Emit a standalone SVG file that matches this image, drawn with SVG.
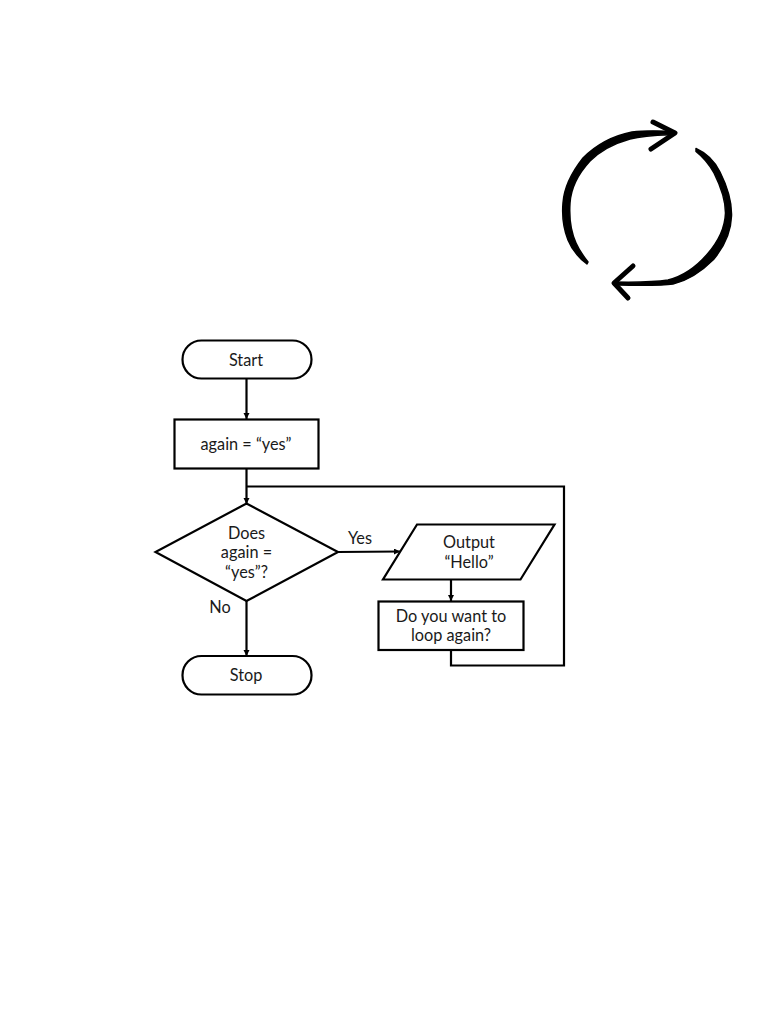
<svg xmlns="http://www.w3.org/2000/svg" width="768" height="1024" viewBox="0 0 768 1024">
<style>
.s{fill:#fff;stroke:#000;stroke-width:2.200}
.c{fill:none;stroke:#000;stroke-width:2.200}
.t{font-family:"Lato","Open Sans",sans-serif;font-size:16.300px;fill:#1a1a1a;text-anchor:middle}
.l{fill:none;stroke:#000;stroke-linecap:round;stroke-linejoin:round}
.f{fill:#000;stroke:#000;stroke-width:1.500;stroke-linejoin:round}
</style>
<defs><marker id="a" markerUnits="userSpaceOnUse" markerWidth="7" markerHeight="7" refX="6" refY="3" orient="auto"><path d="M0 0L6 3L0 6Z" fill="#000"/></marker></defs>
<rect width="768" height="1024" fill="#fff"/>
<g id="cycle">
<path class="f" d="M587 264C579 258 572 250 568 240C564 230 562 215 563 203C564 188 572 172 583 158C596 145 612 136 632 132C648 130 660 131 675 131.500L675 134.500C660 135 645 135 630 139C612 144 600 151 590 161C578 174 571 188 570 203C569 218 571 232 576 243C580 252 584 257 588 262Z"/>
<path class="l" stroke-width="5" d="M653 122L675 133L651 149"/>
<path class="f" d="M696 148.500C706 153 714 160 720 172C727 186 732 200 731.500 216C731 232 724 247 713.500 259.500C703 270 690 280 673 284C660 286 640 285.500 614 285L614 282C640 282.500 655 282 668 280C684 276 697 266 707 254.500C718 242 725 228 725.500 213C725.500 198 720 185 714 173C709 164 703 157 696 151.500Z"/>
<path class="l" stroke-width="5" d="M633 266L614 283L628 298"/>
</g>
<g id="connectors">
<path class="c" marker-end="url(#a)" d="M246.500 378V419"/>
<path class="c" marker-end="url(#a)" d="M246.500 468V504"/>
<path class="c" d="M246.500 486.500H564V665.500H451V650"/>
<path class="c" marker-end="url(#a)" d="M338 552L400 551.500"/>
<path class="c" marker-end="url(#a)" d="M246.500 601V656"/>
<path class="c" marker-end="url(#a)" d="M451 579V601"/>
</g>
<g id="start"><rect class="s" x="182.500" y="340.500" width="129" height="38" rx="19"/><text class="t" x="246" y="365.500">Start</text></g>
<g id="init"><rect class="s" x="174.500" y="419.500" width="144" height="49"/><text class="t" x="246" y="449.500">again = “yes”</text></g>
<g id="decision"><path class="s" d="M246.500 503.500L338 552L246.500 601L155.500 552Z"/><text class="t" x="246.500" y="538.500">Does</text><text class="t" x="246.500" y="558">again =</text><text class="t" x="246.500" y="578">“yes”?</text></g>
<g id="output"><path class="s" d="M417 524.500H554.500L520.500 579.500H383Z"/><text class="t" x="469" y="547.500">Output</text><text class="t" x="469" y="567.500">“Hello”</text></g>
<g id="ask"><rect class="s" x="378.500" y="601.500" width="145" height="48.500"/><text class="t" x="451" y="621.500">Do you want to</text><text class="t" x="451" y="640.500">loop again?</text></g>
<g id="stop"><rect class="s" x="182.500" y="656" width="129" height="38.500" rx="19"/><text class="t" x="246" y="681">Stop</text></g>
<g id="labels"><text class="t" x="360" y="543.500">Yes</text><text class="t" x="220" y="612.500">No</text></g>
</svg>
